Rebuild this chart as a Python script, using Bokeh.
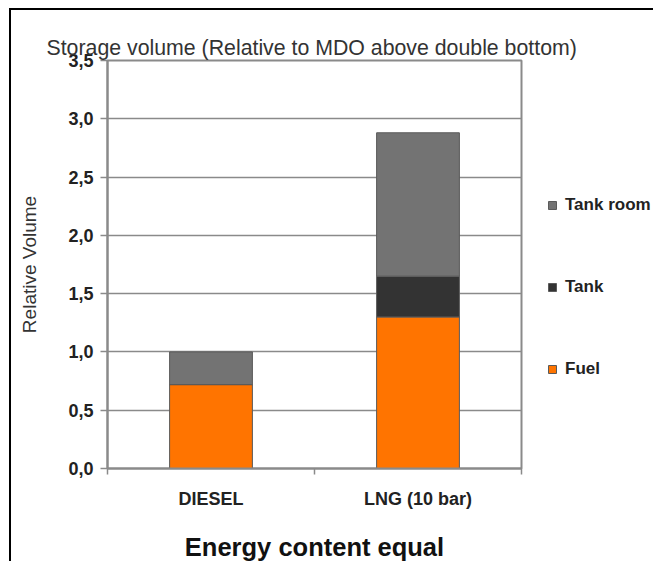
from bokeh.plotting import figure
from bokeh.models import FixedTicker, Range1d, Legend, LegendItem, Title, LinearAxis
from bokeh.embed import file_html
from bokeh.resources import INLINE

title_text = "Storage volume (Relative to MDO above double bottom)"
categories = ["DIESEL", "LNG (10 bar)"]
fuel = [0.72, 1.30]
tank = [0.0, 0.35]
tank_room = [0.28, 1.23]
y_ticks = [0.0, 0.5, 1.0, 1.5, 2.0, 2.5, 3.0, 3.5]
y_tick_labels = ["0,0", "0,5", "1,0", "1,5", "2,0", "2,5", "3,0", "3,5"]
series_names = ["Fuel", "Tank", "Tank room"]
colors = ["#FF7400", "#333333", "#737373"]

FONT = "Liberation Sans"

xpos = [i + 0.5 for i in range(len(categories))]
data = {"x": xpos, "Fuel": fuel, "Tank": tank, "Tank room": tank_room}

p = figure(
    frame_width=414, frame_height=408,
    x_range=Range1d(0, len(categories)), y_range=Range1d(0, y_ticks[-1]),
    output_backend="svg", toolbar_location=None,
    min_border_left=96, min_border_top=50, min_border_right=132, min_border_bottom=93,
)
p.styles = {"border-top": "2px solid #000", "border-left": "2px solid #000",
            "margin-left": "9px", "margin-top": "8px"}

renderers = p.vbar_stack(series_names, x="x", width=0.4, source=data,
                         color=colors, line_color="#5a5a5a", line_width=1)

# keep a handle on the real (bottom) x axis before adding the spacer
xa = p.below[0]
ya = p.left[0]

# invisible axis above the frame, used only as a spacer below the title
spacer = LinearAxis(ticker=FixedTicker(ticks=[1], minor_ticks=[]),
                    major_label_overrides={1: "."},
                    major_label_text_font_size="1px", major_label_text_alpha=0,
                    major_label_standoff=26, major_tick_out=0, major_tick_in=0,
                    axis_line_color=None, major_tick_line_color=None,
                    minor_tick_line_color=None)
p.add_layout(spacer, "above")

p.title = Title(text=title_text, align="left", offset=-61, standoff=2,
                text_font=FONT, text_font_size="21.3px", text_font_style="normal",
                text_color="#333333")

# frame / grid
p.outline_line_color = "#8a8a8a"
p.outline_line_width = 2
p.xgrid.grid_line_color = None
p.ygrid.grid_line_color = "#8a8a8a"
p.ygrid.grid_line_width = 1.5
p.ygrid.ticker = FixedTicker(ticks=y_ticks)

# y axis
ya.ticker = FixedTicker(ticks=y_ticks, minor_ticks=[])
ya.major_label_overrides = {v: s for v, s in zip(y_ticks, y_tick_labels)}
ya.axis_line_color = "#8a8a8a"
ya.axis_line_width = 2
ya.major_tick_line_color = "#8a8a8a"
ya.major_tick_line_width = 1.5
ya.major_tick_out = 7
ya.major_tick_in = 0
ya.minor_tick_line_color = None
ya.major_label_standoff = 7
ya.major_label_text_font = FONT
ya.major_label_text_font_size = "18px"
ya.major_label_text_font_style = "bold"
ya.major_label_text_color = "#222222"
ya.axis_label = "Relative Volume"
ya.axis_label_text_font = FONT
ya.axis_label_text_font_size = "19px"
ya.axis_label_text_font_style = "normal"
ya.axis_label_text_color = "#333333"
ya.axis_label_standoff = 25

# x axis
xa.ticker = FixedTicker(ticks=xpos, minor_ticks=[0, 1, 2])
xa.major_label_overrides = {v: s for v, s in zip(xpos, categories)}
xa.axis_line_color = "#8a8a8a"
xa.axis_line_width = 2
xa.major_tick_line_color = None
xa.major_tick_out = 0
xa.major_tick_in = 0
xa.minor_tick_line_color = "#8a8a8a"
xa.minor_tick_line_width = 1.5
xa.minor_tick_out = 6
xa.minor_tick_in = 0
xa.major_label_standoff = 14
xa.major_label_text_font = FONT
xa.major_label_text_font_size = "18px"
xa.major_label_text_font_style = "bold"
xa.major_label_text_color = "#222222"
xa.axis_label = "Energy content equal"
xa.axis_label_text_font = FONT
xa.axis_label_text_font_size = "25.5px"
xa.axis_label_text_font_style = "bold"
xa.axis_label_text_color = "#111111"
xa.axis_label_standoff = 21

# legend
items = [LegendItem(label=series_names[i], renderers=[renderers[i]]) for i in [2, 1, 0]]
legend = Legend(items=items, location=(26, 89), orientation="vertical",
                glyph_width=10, glyph_height=10, label_standoff=8,
                spacing=62, padding=0, margin=0,
                label_text_font=FONT, label_text_font_size="17px",
                label_text_font_style="bold", label_text_color="#222222",
                border_line_color=None, background_fill_alpha=0)
p.add_layout(legend, "right")

open("out.html", "w").write(file_html(p, INLINE))
